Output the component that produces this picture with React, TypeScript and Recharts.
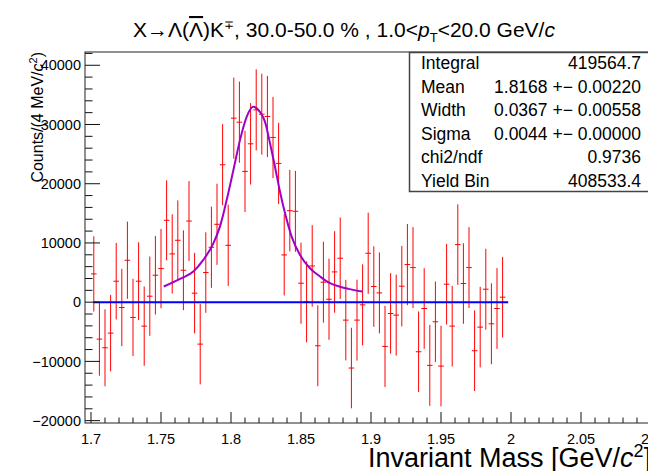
import React from 'react';
import { ComposedChart, Scatter, Line, XAxis, YAxis, ErrorBar } from 'recharts';

// bin centres of the 4 MeV histogram
const binCenters = [
  1.702, 1.706, 1.710, 1.714, 1.718, 1.722, 1.726, 1.730, 1.734, 1.738,
  1.742, 1.746, 1.750, 1.754, 1.758, 1.762, 1.766, 1.770, 1.774, 1.778,
  1.782, 1.786, 1.790, 1.794, 1.798, 1.802, 1.806, 1.810, 1.814, 1.818,
  1.822, 1.826, 1.830, 1.834, 1.838, 1.842, 1.846, 1.850, 1.854, 1.858,
  1.862, 1.866, 1.870, 1.874, 1.878, 1.882, 1.886, 1.890, 1.894, 1.898,
  1.902, 1.906, 1.910, 1.914, 1.918, 1.922, 1.926, 1.930, 1.934, 1.938,
  1.942, 1.946, 1.950, 1.954, 1.958, 1.962, 1.966, 1.970, 1.974, 1.978,
  1.982, 1.986, 1.990, 1.994,
];

const counts = [
  4775, -6236, -7700, -5225, 3540, -900, 7080, -2580, 3540, -4045,
  1010, 4550, 5670, 13820, 8150, 10450, 5390, 13700, 1520, -7080,
  5000, 9270, 13150, 23200, 9600, 31070, 30390, 22080, 26740, 32470,
  31740, 31350, 27810, 23430, 7980, 15450, 15340, 3200, 60, 6120,
  -7360, 3370, 500, 5110, 7420, -3030, -11120, -3030, -450, 8260,
  2640, 1570, -7470, -1910, -2190, 2700, 6350, 5840, -8370, -1070,
  -10670, -3310, -10790, 3030, -4040, 9720, 3150, 5840, -8200, -4210,
  2190, -3650, -1070, 840,
];

const errors = [
  6350, 6180, 6500, 6460, 6460, 6520, 6520, 6520, 6570, 6690,
  6690, 6630, 6690, 6740, 6690, 6740, 6740, 6740, 6800, 6800,
  6800, 6850, 6850, 6850, 6850, 6850, 6850, 6850, 6880, 6850,
  6830, 6850, 6850, 6850, 6850, 6880, 6830, 6850, 6830, 6880,
  6830, 6830, 6850, 6880, 6880, 6800, 6800, 6830, 6830, 6850,
  6800, 6830, 6850, 6800, 6830, 6800, 6850, 6830, 6800, 6800,
  6830, 6800, 6800, 6800, 6800, 6800, 6800, 6830, 6800, 6800,
  6830, 6830, 6830, 6800,
];

// signal fit
const fitX = [
  1.752, 1.7636, 1.7731, 1.7802, 1.7874, 1.7921, 1.7969, 1.8017, 1.8064, 1.8112,
  1.8159, 1.8207, 1.8243, 1.8279, 1.8314, 1.835, 1.8386, 1.8433, 1.8493, 1.8564,
  1.8636, 1.8707, 1.8779, 1.8838, 1.8938,
];
const fitY = [
  2640, 3930, 5170, 7130, 9940, 12750, 17250, 22300, 27360, 31290,
  32980, 32130, 30450, 26800, 22870, 18650, 15000, 11070, 7980, 5730,
  4330, 3200, 2600, 2250, 1800,
];

// background fit
const bkgX = [1.7017, 1.998];
const bkgY = [0, 0];

const xMajorTicks = [1.7, 1.75, 1.8, 1.85, 1.9, 1.95, 2.0, 2.05, 2.1];
const xTickLabels = ['1.7', '1.75', '1.8', '1.85', '1.9', '1.95', '2', '2.05', '2.1'];
const yMajorTicks = [-20000, -10000, 0, 10000, 20000, 30000, 40000];
const yTickLabels = ['\u221220000', '\u221210000', '0', '10000', '20000', '30000', '40000'];
const xAllTicks = Array.from({ length: 41 }, (_, i) => +(1.7 + 0.01 * i).toFixed(2));
const yAllTicks = Array.from({ length: 32 }, (_, i) => -20000 + 2000 * i);

const statLabels = ['Integral', 'Mean', 'Width', 'Sigma', 'chi2/ndf', 'Yield Bin'];
const statValues = [
  '419564.7',
  '1.8168 +\u2212 0.00220',
  '0.0367 +\u2212 0.00558',
  '0.0044 +\u2212 0.00000',
  '0.9736',
  '408533.4',
];

const FONT = "'Liberation Sans', Arial, Helvetica, sans-serif";

const histData = binCenters.map((x, i) => ({ x, y: counts[i], err: errors[i], xerr: 0.002 }));
const fitData = fitX.map((x, i) => ({ x, y: fitY[i] }));
const bkgData = bkgX.map((x, i) => ({ x, y: bkgY[i] }));

const XTick = (props: any) => {
  const { x, y, payload } = props;
  const mi = xMajorTicks.findIndex((t) => Math.abs(t - payload.value) < 1e-6);
  const major = mi >= 0;
  return (
    <g>
      <line x1={x} x2={x} y1={y} y2={y - (major ? 11 : 5.5)} stroke="#111" strokeWidth={1} />
      {major && (
        <text x={x} y={y + 20.5} textAnchor="middle" fontSize={14.5} fontFamily={FONT} fill="#000">
          {xTickLabels[mi]}
        </text>
      )}
    </g>
  );
};

const YTick = (props: any) => {
  const { x, y, payload } = props;
  const mi = yMajorTicks.indexOf(payload.value);
  const major = mi >= 0;
  return (
    <g>
      <line x1={x} x2={x + (major ? 15 : 7.5)} y1={y} y2={y} stroke="#111" strokeWidth={1} />
      {major && (
        <text x={x - 4} y={y} dy="0.36em" textAnchor="end" fontSize={14.5} fontFamily={FONT} fill="#000">
          {yTickLabels[mi]}
        </text>
      )}
    </g>
  );
};

const NoDot = () => <g />;

export default function App() {
  return (
    <div style={{ position: 'absolute', left: 0, top: 0, width: 648, height: 471, overflow: 'hidden', background: '#fff' }}>
      <ComposedChart width={660} height={471} margin={{ top: 52, right: 9, bottom: 0, left: 0 }}>
        <XAxis
          dataKey="x"
          type="number"
          domain={[1.69571, 2.1]}
          allowDataOverflow
          ticks={xAllTicks}
          interval={0}
          tick={<XTick />}
          tickSize={0}
          tickMargin={0}
          tickLine={false}
          axisLine={false}
          height={48}
        />
        <YAxis
          type="number"
          domain={[-20400, 42240]}
          allowDataOverflow
          ticks={yAllTicks}
          interval={0}
          tick={<YTick />}
          tickSize={0}
          tickMargin={0}
          tickLine={false}
          axisLine={false}
          width={85}
        />
        <Scatter data={histData} dataKey="y" shape={<NoDot />} isAnimationActive={false}>
          <ErrorBar dataKey="err" direction="y" width={0} stroke="#ff0000" strokeWidth={1} isAnimationActive={false} />
          <ErrorBar dataKey="xerr" direction="x" width={0} stroke="#ff0000" strokeWidth={1} isAnimationActive={false} />
        </Scatter>
        <Line data={bkgData} dataKey="y" type="linear" stroke="#0000ff" strokeWidth={2} dot={false} isAnimationActive={false} />
        <Line data={fitData} dataKey="y" type="monotone" stroke="#a000c8" strokeWidth={2} dot={false} isAnimationActive={false} />
      </ComposedChart>

      <svg width={648} height={471} style={{ position: 'absolute', left: 0, top: 0, pointerEvents: 'none' }}>
        {/* frame */}
        <rect x={85} y={52} width={566} height={371} fill="none" stroke="#222" strokeWidth={1} />

        {/* title */}
        <text x={344} y={37} textAnchor="middle" fontSize={21} fontFamily={FONT} fill="#000">
          {'X\u2192\u039B('}
          <tspan style={{ textDecoration: 'overline' }}>{'\u039B'}</tspan>
          {')K'}
          <tspan dy={-8} fontSize={12}>{'\u2213'}</tspan>
          <tspan dy={8}>{', 30.0-50.0 % , 1.0<'}</tspan>
          <tspan fontStyle="italic">p</tspan>
          <tspan dy={5} fontSize={13}>T</tspan>
          <tspan dy={-5}>{'<20.0 GeV/'}</tspan>
          <tspan fontStyle="italic">c</tspan>
        </text>

        {/* y axis title */}
        <text transform="translate(43,52) rotate(-90)" textAnchor="end" fontSize={16} fontFamily={FONT} fill="#000">
          {'Counts/(4 MeV/'}
          <tspan fontStyle="italic">c</tspan>
          <tspan dy={-6} fontSize={11}>2</tspan>
          <tspan dy={6}>)</tspan>
        </text>

        {/* x axis title */}
        <text x={368} y={467} fontSize={27} fontFamily={FONT} fill="#000">
          {'Invariant Mass [GeV/'}
          <tspan fontStyle="italic">c</tspan>
          <tspan dy={-10} fontSize={18}>2</tspan>
          <tspan dy={10}>]</tspan>
        </text>

        {/* stats box */}
        <rect x={409.5} y={52.5} width={240} height={139} fill="#fff" stroke="#444" strokeWidth={1.5} />
        {statLabels.map((s, i) => (
          <g key={s}>
            <text x={421} y={69 + 23.6 * i} fontSize={17.5} fontFamily={FONT} fill="#000">{s}</text>
            <text x={641} y={69 + 23.6 * i} textAnchor="end" fontSize={17.5} fontFamily={FONT} fill="#000">{statValues[i]}</text>
          </g>
        ))}
      </svg>
    </div>
  );
}
